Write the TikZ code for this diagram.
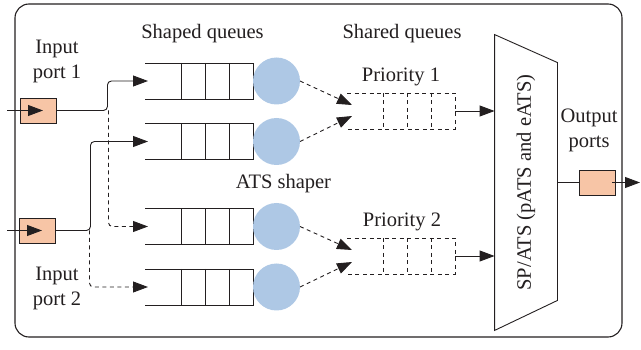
\documentclass[tikz,border=0pt]{standalone}
\usepackage{fontspec}
\setmainfont{Liberation Serif}
\usetikzlibrary{arrows.meta,calc}
\definecolor{portfill}{RGB}{247,197,166}
\definecolor{shaperfill}{RGB}{174,200,229}
\definecolor{ink}{RGB}{35,31,32}
\newcommand\qlines[2][]{%
  \draw[#1] (#2.north west) -- (#2.north east) -- (#2.south east) -- (#2.south west);
  \foreach \d in {36,60,84} \draw[#1] ([xshift=\d pt]#2.north west) -- ([xshift=\d pt]#2.south west);
}
\begin{document}
\begin{tikzpicture}[x=1pt,y=-1pt, line width=0.9pt, draw=ink, text=ink,
  font=\fontsize{20.5}{25}\selectfont,
  tip/.style={-{Triangle[length=15pt,width=11pt]}},
  dsh/.style={dash pattern=on 4pt off 3.5pt},
  qbox/.style={minimum width=108pt,minimum height=36pt,inner sep=0pt,outer sep=0pt},
  port/.style={draw,fill=portfill,minimum width=36pt,minimum height=25pt,inner sep=0pt},
  shaper/.style={circle,fill=shaperfill,minimum size=47pt,inner sep=0pt,outer sep=0pt},
  lbl/.style={inner sep=0pt,align=center},
  bl/.style={anchor=base,inner sep=0pt}]
\useasboundingbox (0,0) rectangle (641,350);
\draw[rounded corners=14pt, line width=1.1pt] (15,4) rectangle (622,337);

% shaped queues
\node[qbox] (q1) at (199,81) {};
\node[qbox] (q2) at (199,141.5) {};
\node[qbox] (q3) at (199,226.5) {};
\node[qbox] (q4) at (199,287) {};
\qlines{q1}\qlines{q2}\qlines{q3}\qlines{q4}

% shapers
\node[shaper,anchor=west] (c1) at (q1.east) {};
\node[shaper,anchor=west] (c2) at (q2.east) {};
\node[shaper,anchor=west] (c3) at (q3.east) {};
\node[shaper,anchor=west] (c4) at (q4.east) {};

% shared queues
\node[qbox] (p1) at (401,111) {};
\node[qbox] (p2) at (401,256) {};
\qlines[dsh]{p1}\qlines[dsh]{p2}

% ports
\node[port] (in1) at (38,110.5) {};
\node[port] (in2) at (37,230.5) {};
\node[port] (out) at (597,182.5) {};
\coordinate (src1) at (7,110.5);
\coordinate (src2) at (7,230.5);
\coordinate (dst) at (640,182.5);

% SP/ATS
\node[minimum width=62pt,minimum height=295pt,inner sep=0pt] (mux) at (526,182.5) {};
\draw (mux.north west) -- ([yshift=-28pt]mux.north east) -- ([yshift=30pt]mux.south east) -- (mux.south west) -- cycle;
\node[rotate=90,inner sep=0pt] (muxlabel) at (mux.center) {SP/ATS (pATS and eATS)};

% input connectors
\draw[tip] (src1) -- ([xshift=5pt]in1.center);
\draw[tip] (src2) -- ([xshift=5pt]in2.center);
\draw[tip,rounded corners=4pt] (in1.east) -- ++(51,0) |- ([xshift=3pt]q1.west);
\draw[dsh,tip,rounded corners=4pt] ([xshift=52pt]in1.east) |- ([xshift=3pt]q3.west);
\draw[tip,rounded corners=4pt] (in2.east) -- ++(35,0) |- ([xshift=3pt]q2.west);
\draw[dsh,tip,rounded corners=4pt] ([xshift=34pt]in2.east) |- ([xshift=3pt]q4.west);

% shapers to shared queues
\draw[dsh,tip] (c1.east) -- ([xshift=5pt,yshift=6pt]p1.west);
\draw[dsh,tip] (c2.east) -- ([xshift=5pt,yshift=-5pt]p1.west);
\draw[dsh,tip] (c3.east) -- ([xshift=5pt,yshift=6pt]p2.west);
\draw[dsh,tip] (c4.east) -- ([xshift=5pt,yshift=-6pt]p2.west);

% shared queues to SP/ATS
\draw[tip] (p1.east) -- (p1.east -| mux.west);
\draw[tip] (p2.east) -- (p2.east -| mux.west);

% output
\draw (mux.east |- out.west) -- (out.west);
\draw[tip] ([xshift=-3pt]out.east) -- (dst);

% labels
\node[lbl] (lin1) at (57,61) {Input\\port 1};
\node[lbl] (lin2) at (57,288) {Input\\port 2};
\node[lbl] (lout) at (589,130) {Output\\ports};
\node[bl] (lshaped) at (202.5,39) {Shaped queues};
\node[bl] (lshared) at (402,39) {Shared queues};
\node[bl] (lpr1) at (401,82) {Priority 1};
\node[bl] (lpr2) at (402,227) {Priority 2};
\node[bl] (lats) at (283.5,189) {ATS shaper};
\end{tikzpicture}
\end{document}
